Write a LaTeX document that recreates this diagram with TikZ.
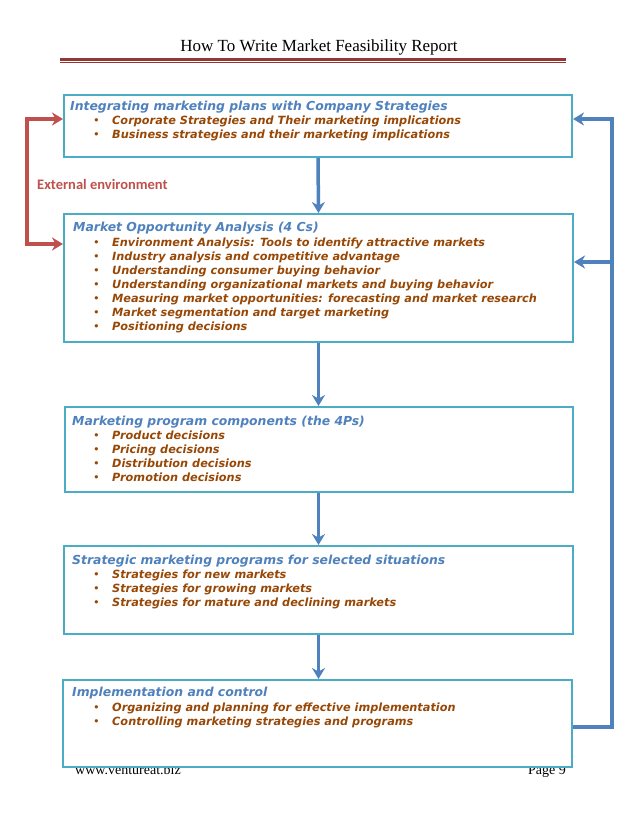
\documentclass[tikz,border=0pt]{standalone}
\usepackage{fontspec}
\setmainfont{Liberation Serif}
\newfontfamily\vfont{DejaVu Sans}
\newfontfamily\cfont{Carlito}
\usetikzlibrary{arrows.meta}
\definecolor{boxline}{HTML}{4BACC6}
\definecolor{ttlblue}{HTML}{4F81BD}
\definecolor{itmbrown}{HTML}{984806}
\definecolor{redarrow}{HTML}{C0504D}
\definecolor{ruleclr}{HTML}{943634}
\definecolor{bluearrow}{HTML}{4F81BD}
\tikzset{
  box/.style={draw=boxline, line width=2pt, fill=white, rectangle, inner sep=0pt},
  ttl/.style={font=\vfont\bfseries\itshape\fontsize{12.4}{14}\selectfont, text=ttlblue, inner sep=0pt, anchor=base west},
  itm/.style={font=\vfont\bfseries\itshape\fontsize{11.3}{14}\selectfont, text=itmbrown, inner sep=0pt, anchor=base west},
  bul/.style={font=\vfont\fontsize{11.3}{14}\selectfont, text=itmbrown, inner sep=0pt, anchor=base west},
  barrow/.style={draw=bluearrow, line width=3.5pt, -{Stealth[length=11pt,width=13pt]}},
  rarrow/.style={draw=redarrow, line width=3.5pt, {Stealth[length=11pt,width=13pt]}-{Stealth[length=11pt,width=13pt]}},
  foot/.style={font=\fontsize{14}{16}\selectfont, inner sep=0pt, anchor=base west},
}
\begin{document}
\begin{tikzpicture}[x=1pt,y=-1pt]
\useasboundingbox (0,0) rectangle (638,826);
% header
\node[font=\fontsize{17}{20}\selectfont, inner sep=0pt, anchor=base] (hdr) at (319,52) {How To Write Market Feasibility Report};
\coordinate (rl) at (60,59.5);
\coordinate (rr) at (566,59.5);
\draw[ruleclr, line width=2.5pt] (rl) -- (rr);
\draw[ruleclr, line width=0.8pt] ([yshift=-3pt]rl) -- ([yshift=-3pt]rr);
% footer (partly hidden by last box)
\node[foot] (fl) at (75,774) {www.ventureat.biz};
\node[foot, anchor=base east] (fr) at (566,774) {Page 9};
% boxes
\node[box, minimum width=508pt, minimum height=62pt] (b1) at (318,126) {};
\node[box, minimum width=509pt, minimum height=128pt] (b2) at (318.5,278) {};
\node[box, minimum width=508pt, minimum height=85pt] (b3) at (319,449.5) {};
\node[box, minimum width=509pt, minimum height=88pt] (b4) at (318.5,590) {};
\node[box, minimum width=509pt, minimum height=87pt] (b5) at (317.5,723.5) {};
% box 1
\node[ttl] (t1) at (70,111) {Integrating marketing plans with Company Strategies};
\node[bul] (u11) at (93,125) {•}; \node[itm] (i11) at (112,125) {Corporate Strategies and Their marketing implications};
\node[bul] (u12) at (93,139) {•}; \node[itm] (i12) at (112,139) {Business strategies and their marketing implications};
% box 2
\node[ttl] (t2) at (73,232) {Market Opportunity Analysis (4 Cs)};
\node[bul] (u21) at (93,246) {•}; \node[itm] (i21) at (112,246) {Environment Analysis: Tools to identify attractive markets};
\node[bul] (u22) at (93,260) {•}; \node[itm] (i22) at (112,260) {Industry analysis and competitive advantage};
\node[bul] (u23) at (93,274) {•}; \node[itm] (i23) at (112,274) {Understanding consumer buying behavior};
\node[bul] (u24) at (93,288) {•}; \node[itm] (i24) at (112,288) {Understanding organizational markets and buying behavior};
\node[bul] (u25) at (93,302) {•}; \node[itm] (i25) at (112,302) {Measuring market opportunities: forecasting and market research};
\node[bul] (u26) at (93,316) {•}; \node[itm] (i26) at (112,316) {Market segmentation and target marketing};
\node[bul] (u27) at (93,330) {•}; \node[itm] (i27) at (112,330) {Positioning decisions};
% box 3
\node[ttl] (t3) at (72,425) {Marketing program components (the 4Ps)};
\node[bul] (u31) at (93,439) {•}; \node[itm] (i31) at (112,439) {Product decisions};
\node[bul] (u32) at (93,453) {•}; \node[itm] (i32) at (112,453) {Pricing decisions};
\node[bul] (u33) at (93,467) {•}; \node[itm] (i33) at (112,467) {Distribution decisions};
\node[bul] (u34) at (93,481) {•}; \node[itm] (i34) at (112,481) {Promotion decisions};
% box 4
\node[ttl] (t4) at (72,564) {Strategic marketing programs for selected situations};
\node[bul] (u41) at (93,578) {•}; \node[itm] (i41) at (112,578) {Strategies for new markets};
\node[bul] (u42) at (93,592) {•}; \node[itm] (i42) at (112,592) {Strategies for growing markets};
\node[bul] (u43) at (93,606) {•}; \node[itm] (i43) at (112,606) {Strategies for mature and declining markets};
% box 5
\node[ttl] (t5) at (72,696) {Implementation and control};
\node[bul] (u51) at (93,711) {•}; \node[itm] (i51) at (112,711) {Organizing and planning for effective implementation};
\node[bul] (u52) at (93,725) {•}; \node[itm] (i52) at (112,725) {Controlling marketing strategies and programs};
% external environment
\node[font=\cfont\bfseries\fontsize{14.5}{16}\selectfont, text=redarrow, inner sep=0pt, anchor=base west] (ext) at (37,190) {External environment};
\coordinate (lt) at (27,119);
\coordinate (lb) at (27,244);
\draw[rarrow] (lt -| b1.west) -- (lt) -- (lb) -- (lb -| b2.west);
% down arrows
\draw[barrow] (b1.south) -- (b2.north);
\draw[barrow] (b2.south) -- (b3.north -| b2.south);
\draw[barrow] (b3.south -| b2.south) -- (b4.north);
\draw[barrow] (b4.south) -- (b5.north -| b4.south);
% feedback loop
\coordinate (rb) at (612,727);
\coordinate (rt) at (612,119);
\coordinate (rm) at (612,262);
\draw[barrow] (rb -| b5.east) -- (rb) -- (rt) -- (rt -| b1.east);
\draw[barrow] (rm) -- (rm -| b2.east);
\end{tikzpicture}
\end{document}
